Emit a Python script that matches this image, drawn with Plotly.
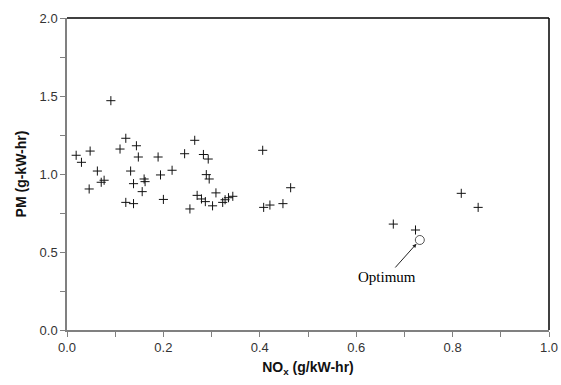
import plotly.graph_objects as go

nox = [0.019, 0.030, 0.048, 0.046, 0.063, 0.071, 0.077, 0.091, 0.110, 0.122,
       0.122, 0.132, 0.138, 0.138, 0.144, 0.148, 0.156, 0.160, 0.162, 0.189,
       0.194, 0.200, 0.218, 0.244, 0.255, 0.265, 0.270, 0.279, 0.283, 0.287,
       0.289, 0.293, 0.295, 0.302, 0.309, 0.323, 0.328, 0.335, 0.344, 0.406,
       0.408, 0.421, 0.448, 0.464, 0.677, 0.723, 0.818, 0.853]
pm = [1.120, 1.075, 1.147, 0.904, 1.019, 0.947, 0.960, 1.470, 1.160, 1.229,
      0.818, 1.019, 0.938, 0.810, 1.181, 1.109, 0.887, 0.968, 0.951, 1.109,
      0.994, 0.837, 1.024, 1.130, 0.776, 1.216, 0.863, 0.840, 1.125, 0.823,
      0.996, 1.096, 0.968, 0.796, 0.879, 0.818, 0.835, 0.848, 0.857, 1.152,
      0.786, 0.801, 0.810, 0.912, 0.679, 0.641, 0.876, 0.786]

opt_nox = [0.732]
opt_pm = [0.577]
opt_label = "Optimum"

x_title = "<b>NO<sub>x</sub> (g/kW-hr)</b>"
y_title = "<b>PM (g-kW-hr)</b>"

fig = go.Figure()
fig.add_trace(go.Scatter(
    x=nox, y=pm, mode="markers",
    marker=dict(symbol="cross-thin", size=6.5, line=dict(width=1, color="#111111")),
    showlegend=False, hoverinfo="x+y"))
fig.add_trace(go.Scatter(
    x=opt_nox, y=opt_pm, mode="markers",
    marker=dict(symbol="circle-open", size=9, color="#555555", line=dict(width=1, color="#555555")),
    showlegend=False))

fig.add_annotation(
    x=opt_nox[0], y=opt_pm[0], xref="x", yref="y",
    text=opt_label, showarrow=True, ax=-33, ay=37,
    arrowhead=2, arrowsize=0.8, arrowwidth=1, arrowcolor="#222222", standoff=5,
    font=dict(family="Liberation Serif, Times New Roman, serif", size=15, color="#000000"))

axis_common = dict(
    showgrid=False, zeroline=False, showline=True, linecolor="#808080", linewidth=1.5,
    ticks="outside", ticklen=5, tickcolor="#808080", tickwidth=1, automargin=False,
    tickfont=dict(family="Liberation Sans, Arial, sans-serif", size=13, color="#333333"),
)

fig.update_xaxes(range=[0, 1.0], dtick=0.2, tick0=0, tickformat=".1f",
                 minor=dict(dtick=0.1, ticklen=5, tickcolor="#808080", ticks="outside"),
                 title=dict(text=x_title, standoff=8,
                            font=dict(family="Liberation Sans, Arial, sans-serif", size=14, color="#111111")),
                 **axis_common)
fig.update_yaxes(range=[0, 2.0], dtick=0.5, tick0=0, tickformat=".1f",
                 minor=dict(dtick=0.25, ticklen=5, tickcolor="#808080", ticks="outside"),
                 title=dict(text=y_title, standoff=10,
                            font=dict(family="Liberation Sans, Arial, sans-serif", size=14, color="#111111")),
                 **axis_common)

# black top and right frame
fig.add_shape(type="line", xref="paper", yref="paper", x0=0, x1=1, y0=1, y1=1,
              line=dict(color="#000000", width=1.5))
fig.add_shape(type="line", xref="paper", yref="paper", x0=1, x1=1, y0=0, y1=1,
              line=dict(color="#000000", width=1.5))

fig.update_layout(
    width=561, height=385,
    margin=dict(l=67, r=12, t=18, b=55),
    paper_bgcolor="white", plot_bgcolor="white",
)

fig.write_html("out.html", config={"displayModeBar": False},
               post_script="document.body.style.margin='0';document.body.style.overflow='hidden';")
